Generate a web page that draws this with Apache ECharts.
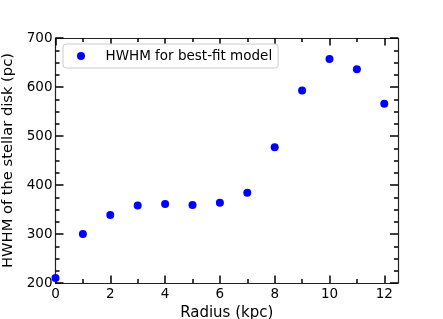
<!DOCTYPE html>
<html>
<head>
<meta charset="utf-8">
<script src="https://cdn.jsdelivr.net/npm/echarts@6/dist/echarts.min.js"></script>
<style>html,body{margin:0;padding:0;background:#fff}#c{width:443px;height:319px}</style>
</head>
<body>
<div id="c"></div>
<script>
const radius = [0, 1, 2, 3, 4, 5, 6, 7, 8, 9, 10, 11, 12];
const hwhm = [210, 300, 339, 358, 361, 359, 364, 384, 477, 593, 657, 636, 566];
const xMajor = [0, 2, 4, 6, 8, 10, 12];
const xMinor = [1, 3, 5, 7, 9, 11];
const seriesName = 'HWHM for best-fit model';

const FONT = 'DejaVu Sans';
const chart = echarts.init(document.getElementById('c'), null, {renderer: 'canvas'});
const lineStyle = {color: '#222', width: 1.2};
const tickStyle = {color: '#000', width: 1.5};
function xa(pos, ticks, len, showLine, showLabel) {
  return {
    type: 'value', position: pos, min: 0, max: 12.5,
    axisLine: {show: showLine, onZero: false, lineStyle: lineStyle},
    axisTick: {show: true, inside: true, length: len, customValues: ticks, lineStyle: tickStyle},
    axisLabel: {show: showLabel, customValues: ticks, color: '#000', fontFamily: FONT, fontSize: 13.5, margin: 4},
    splitLine: {show: false}
  };
}
const xAxes = [xa('bottom', xMajor, 7.5, true, true), xa('bottom', xMinor, 4, false, false),
               xa('top', xMajor, 7.5, true, false), xa('top', xMinor, 4, false, false)];
xAxes[0].name = 'Radius (kpc)';
xAxes[0].nameLocation = 'middle';
xAxes[0].nameGap = 20;
xAxes[0].nameTextStyle = {color: '#000', fontFamily: FONT, fontSize: 15};
function ya(pos, showLabel) {
  return {
    type: 'value', position: pos, min: 200, max: 700, interval: 100,
    axisLine: {show: true, onZero: false, lineStyle: lineStyle},
    axisTick: {show: true, inside: true, length: 8, lineStyle: tickStyle},
    minorTick: {show: true, splitNumber: 4, length: 4, lineStyle: tickStyle},
    axisLabel: {show: showLabel, color: '#000', fontFamily: FONT, fontSize: 13.5, margin: 3},
    splitLine: {show: false}
  };
}
const yAxes = [ya('left', true), ya('right', false)];
yAxes[0].name = 'HWHM of the stellar disk (pc)';
yAxes[0].nameLocation = 'middle';
yAxes[0].nameGap = 31;
yAxes[0].nameTextStyle = {color: '#000', fontFamily: FONT, fontSize: 14.7};

chart.setOption({
  animation: false,
  grid: {left: 55.5, right: 45, top: 38, bottom: 36, containLabel: false, outerBoundsMode: 'none'},
  xAxis: xAxes,
  yAxis: yAxes,
  legend: {
    show: true, left: 63, top: 44, orient: 'horizontal',
    backgroundColor: '#fff', borderColor: '#ccc', borderWidth: 1, borderRadius: 3,
    padding: [5, 6, 5, 14], itemWidth: 39, itemHeight: 8,
    textStyle: {color: '#000', fontFamily: FONT, fontSize: 13.5},
    data: [{name: seriesName, icon: 'circle'}]
  },
  series: [{
    name: seriesName, type: 'scatter', symbol: 'circle', symbolSize: 8,
    itemStyle: {color: '#0000ff', opacity: 1},
    data: radius.map((r, i) => [r, hwhm[i]]),
    clip: true
  }]
});
</script>
</body>
</html>
